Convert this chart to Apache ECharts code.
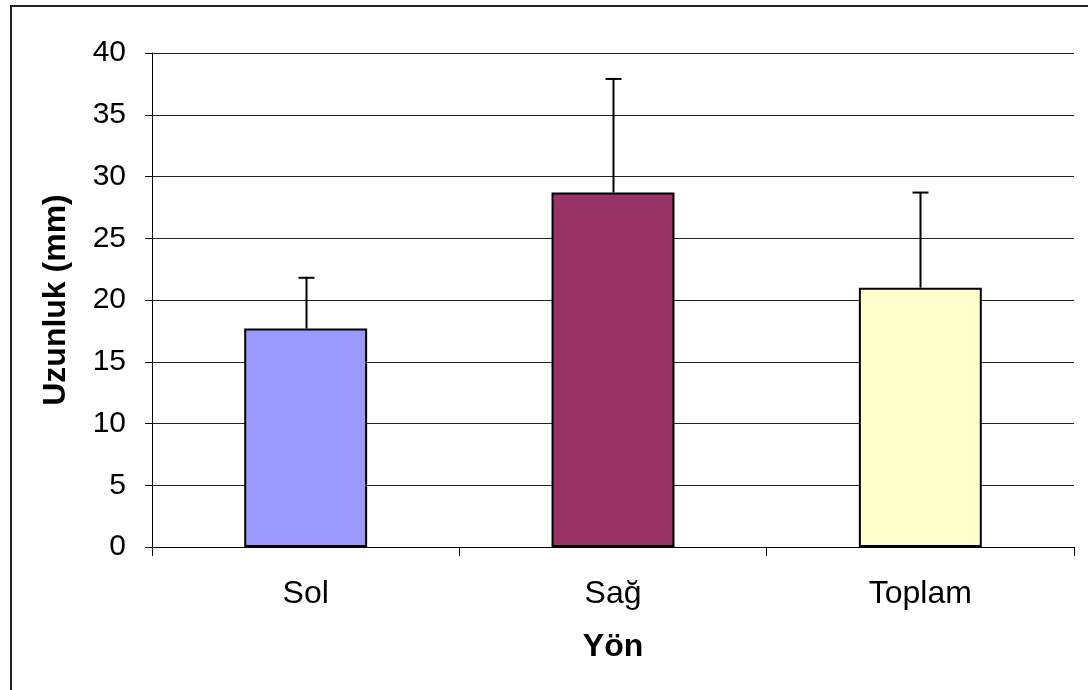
<!DOCTYPE html>
<html><head><meta charset="utf-8">
<script src="https://cdn.jsdelivr.net/npm/echarts@6/dist/echarts.min.js"></script>
<style>html,body{margin:0;padding:0;background:#fff}#c{width:1088px;height:690px}</style>
</head><body><div id="c"></div>
<script>
var categories = ['Sol', 'Sağ', 'Toplam'];
var means = [17.7, 28.7, 21.0];
var upperErr = [21.8, 37.9, 28.7];
var barColors = ['#9999FF', '#993366', '#FFFFCC'];

var chart = echarts.init(document.getElementById('c'), null, {renderer: 'canvas'});
var font = 'Liberation Sans, Arial, sans-serif';
chart.setOption({
  animation: false,
  backgroundColor: '#fff',
  graphic: [{type: 'rect', shape: {x: 11, y: 6, width: 1100, height: 700}, style: {fill: 'none', stroke: '#222', lineWidth: 2}, silent: true}],
  grid: {left: 152, right: 14, top: 53, bottom: 143},
  xAxis: {
    type: 'category', data: categories,
    name: 'Yön', nameLocation: 'middle', nameGap: 84,
    nameTextStyle: {fontFamily: font, fontSize: 32, fontWeight: 'bold', color: '#000'},
    axisLine: {lineStyle: {color: '#000', width: 1}},
    axisTick: {show: true, inside: false, length: 9, alignWithLabel: false, lineStyle: {color: '#000'}},
    axisLabel: {fontFamily: font, fontSize: 32, color: '#000', margin: 31}
  },
  yAxis: {
    type: 'value', min: 0, max: 40, interval: 5,
    name: 'Uzunluk (mm)', nameLocation: 'middle', nameGap: 80,
    nameTextStyle: {fontFamily: font, fontSize: 32, fontWeight: 'bold', color: '#000'},
    axisLine: {show: true, lineStyle: {color: '#000', width: 1}},
    axisTick: {show: true, length: 7, lineStyle: {color: '#000'}},
    axisLabel: {fontFamily: font, fontSize: 30, color: '#000', margin: 26},
    splitLine: {lineStyle: {color: '#222', width: 1}}
  },
  series: [{
    type: 'bar',
    barWidth: '40%',
    data: means.map(function (v, i) {
      return {value: v, itemStyle: {color: barColors[i], borderColor: '#000', borderWidth: 2}};
    }),
    z: 2
  }, {
    type: 'custom',
    z: 3,
    data: means.map(function (v, i) { return [i, v, upperErr[i]]; }),
    renderItem: function (params, api) {
      var base = api.coord([api.value(0), api.value(1)]);
      var top = api.coord([api.value(0), api.value(2)]);
      var x = Math.round(base[0]) + 0.5;
      return {
        type: 'group',
        children: [
          {type: 'line', shape: {x1: x, y1: base[1], x2: x, y2: top[1]}, style: {stroke: '#000', lineWidth: 2}},
          {type: 'line', shape: {x1: x - 8, y1: top[1], x2: x + 8, y2: top[1]}, style: {stroke: '#000', lineWidth: 2}}
        ]
      };
    }
  }]
});
</script></body></html>
